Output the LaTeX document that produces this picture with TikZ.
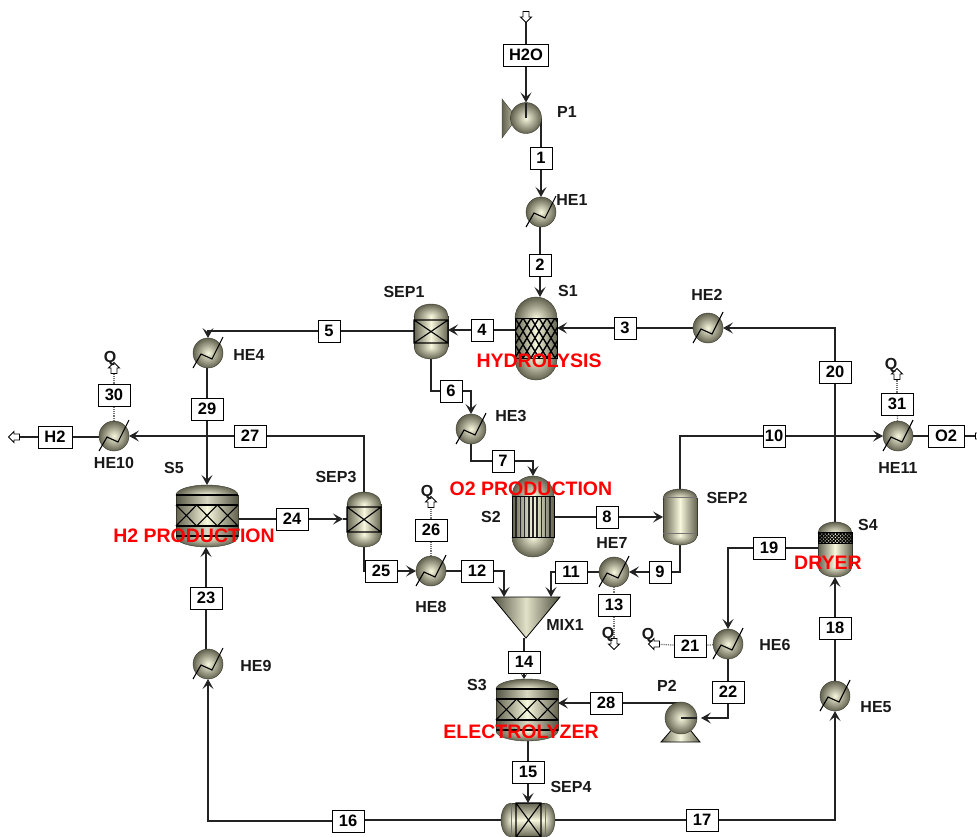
\documentclass[tikz,border=0pt]{standalone}
\usepackage{fontspec}
\setmainfont{Liberation Sans}
\usetikzlibrary{arrows.meta}
\definecolor{VD}{HTML}{62624F}
\definecolor{VL}{HTML}{F8F8DE}
\definecolor{EDG}{HTML}{3A3A30}
\definecolor{LNC}{HTML}{222222}
\pgfdeclarelayer{bg}
\pgfsetlayers{bg,main}
\tikzset{
  ghost/.style={rectangle,inner sep=0pt,outer sep=0pt,draw=none,fill=none},
  hx/.style={circle,inner sep=0pt,outer sep=0pt,minimum size=30pt,inner color=VL,outer color=VD,draw=EDG,line width=.4pt},
  bx/.style={rectangle,draw=black,fill=white,line width=1pt,inner sep=0pt,minimum height=22pt,font=\bfseries\fontsize{16.5}{17}\selectfont},
  b1d/.style={bx,minimum width=22pt},
  b2d/.style={bx,minimum width=32pt},
  lab/.style={inner sep=0pt,font=\bfseries\fontsize{16}{17}\selectfont,text=black!90},
  redlab/.style={inner sep=0pt,font=\bfseries\fontsize{19.5}{20}\selectfont,text=red},
  line/.style={draw=LNC,line width=1.1pt},
  flow/.style={line,-{Stealth[length=10pt,width=11pt,inset=4.5pt]}},
  flowshort/.style={line,-{Stealth[length=5pt,width=6pt,inset=2pt]}},
  heat/.style={draw=black!55,line width=1.2pt,densely dotted},
  openarr/.style={draw=black,fill=white,line width=.9pt,line join=miter},
  inner/.style={draw=black,line width=1.1pt},
  thin inner/.style={draw=black!75,line width=.8pt},
}
% name cx top bottom halfw dome
\newcommand\Vess[6]{%
  \node[ghost,minimum width={2*#5},minimum height={#4-#3}] (#1) at ({#2},{(#3+#4)/2}) {};
  \shade[left color=VD,right color=VD,middle color=VL] ({#2-#5},{#3+#6}) rectangle ({#2+#5},{#4-#6});
  \begin{scope}\clip ({#2-#5-1},{#3-1}) rectangle ({#2+#5+1},{#3+#6});
    \shade[inner color=VL,outer color=VD,draw=EDG,line width=.4pt] ({#2},{#3+#6}) ellipse ({#5} and {#6});
  \end{scope}
  \begin{scope}\clip ({#2-#5-1},{#4+1}) rectangle ({#2+#5+1},{#4-#6});
    \shade[inner color=VL,outer color=VD,draw=EDG,line width=.4pt] ({#2},{#4-#6}) ellipse ({#5} and {#6});
  \end{scope}
  \draw[EDG,line width=.4pt] ({#2-#5},{#3+#6}) -- ({#2-#5},{#4-#6}) ({#2+#5},{#3+#6}) -- ({#2+#5},{#4-#6});
}
% name x y
\newcommand\HX[3]{%
  \node[hx] (#1) at (#2,#3) {};
  \draw[inner] ([shift={(-15,15)}]#1.center) -- ([shift={(-7,1)}]#1.center) -- ([shift={(4,6)}]#1.center) -- ([shift={(15,-16)}]#1.center);
}
% open block arrow: name x y rotation (0 = pointing down on the page)
\newcommand\OpenA[4]{%
  \coordinate (#1) at (#2,#3);
  \draw[openarr,shift={(#2,#3)},rotate=#4] (-3,-5.5) -- (3,-5.5) -- (3,0) -- (5.5,0) -- (0,5.5) -- (-5.5,0) -- (-3,0) -- cycle;
}
% low wide drum: name cx top bottom halfw
\newcommand\Drum[5]{%
  \Vess{#1}{#2}{#3}{#4}{#5}{10}
  \fill[black,opacity=.12] ({#2-#5},{#3+10}) rectangle ({#2+#5},{#3+20});
  \fill[black,opacity=.12] ({#2-#5},{#3+41}) rectangle ({#2+#5},{#3+51});
  \draw[inner] ({#2-#5},{#3+10}) -- ({#2+#5},{#3+10}) ({#2-#5},{#3+20}) -- ({#2+#5},{#3+20})
     ({#2-#5},{#3+41}) -- ({#2+#5},{#3+41}) ({#2-#5},{#3+51}) -- ({#2+#5},{#3+51});
  \foreach \k in {0,1,2}{
    \draw[inner] ({#2-#5+\k*2*#5/3},{#3+20}) -- ({#2-#5+(\k+1)*2*#5/3},{#3+41})
                 ({#2-#5+\k*2*#5/3},{#3+41}) -- ({#2-#5+(\k+1)*2*#5/3},{#3+20});
  }
}
% name cx top bottom halfw dome bandtop bandbottom
\newcommand\Sep[8]{%
  \Vess{#1}{#2}{#3}{#4}{#5}{#6}
  \draw[inner] ({#2-#5},#7) rectangle ({#2+#5},#8)
     ({#2-#5},#7) -- ({#2+#5},#8) ({#2-#5},#8) -- ({#2+#5},#7);
}
\begin{document}
\begin{tikzpicture}[x=1pt,y=-1pt]
\useasboundingbox (0,0) rectangle (977,836);
\begin{pgfonlayer}{bg}\fill[white] (0,0) rectangle (977,836);\end{pgfonlayer}
\clip (0,0) rectangle (977,836);

% ---------- equipment ----------
% P1
\shade[left color=VD,right color=VL!70!VD,draw=EDG,line width=.4pt] (502,99) -- (502,138) -- (517,118) -- cycle;
\node[hx,minimum size=31pt] (P1) at (526,118) {};
\HX{HE1}{541}{212}
% S1
\Vess{S1}{536}{297}{380}{21}{21}
\begin{scope}
  \clip (515,318) rectangle (557,358);
  \foreach \k in {-5,...,9}{
    \draw[black,line width=1.4pt] ({515+8*\k},318) -- ({515+8*\k+24},358);
    \draw[black,line width=1.4pt] ({515+8*\k+24},318) -- ({515+8*\k},358);
  }
\end{scope}
\draw[black,line width=1pt] (515,318) rectangle (557,358);
\HX{HE2}{708}{328}
\Sep{SEP1}{431}{304}{359}{17}{12}{320}{343}
\HX{HE4}{208}{353}
\HX{HE3}{471}{429}
% S2
\Vess{S2}{533}{476}{557}{21}{20}
\begin{scope}
  \clip (512,496) rectangle (554,537);
  \foreach \k in {1,...,9}{\draw[black!85,line width=1.6pt] ({512+\k*4.2},496) -- ({512+\k*4.2},537);}
\end{scope}
\draw[black,line width=1pt] (512,496) rectangle (554,537);
% SEP2
\Vess{SEP2}{680}{489}{545}{17}{9}
\draw[thin inner,black!55] (663,497) -- (697,497) (663,533) -- (697,533);
\HX{HE11}{898}{436}
\HX{HE10}{114}{436}
\Drum{S5}{207}{485}{547}{31}
\Sep{SEP3}{364}{492}{547}{17}{12}{507}{532}
\HX{HE8}{431}{571}
\HX{HE7}{614}{572}
% MIX1
\node[ghost,minimum width=68pt,minimum height=41pt] (MIX1) at (526,617) {};
\coordinate (mixL) at (504,597);
\coordinate (mixR) at (551,597);
\coordinate (mixTip) at (526,638);
\shade[left color=VD!80!black,right color=VD!80!black,middle color=VL!85!VD,draw=black,line width=.8pt] (492,597) -- (560,597) -- (mixTip) -- cycle;
% S4
\Vess{S4}{835}{522}{577}{17}{11}
\begin{scope}
  \clip (818,532) rectangle (852,543);
  \foreach \k in {-4,...,14}{
    \draw[black,line width=.9pt] ({818+3.4*\k},532) -- ({818+3.4*\k+11},543);
    \draw[black,line width=.9pt] ({818+3.4*\k+11},532) -- ({818+3.4*\k},543);
  }
\end{scope}
\draw[black,line width=.8pt] (818,532) rectangle (852,543);
\HX{HE6}{728}{644}
\HX{HE5}{835}{696}
\HX{HE9}{208}{664}
\Drum{S3}{527}{679}{741}{31}
% P2
\shade[left color=VD,right color=VD,middle color=VL,draw=black,line width=.8pt] (661,742) -- (700,742) -- (687,726) -- (675,726) -- cycle;
\node[hx,minimum size=32pt] (P2) at (681,718) {};
% SEP4
\node[ghost,minimum width=54pt,minimum height=34pt] (SEP4) at (528,820) {};
\shade[top color=VD,bottom color=VD,middle color=VL] (511,803) rectangle (545,837);
\begin{scope}\clip (500,802) rectangle (511,838);
  \shade[inner color=VL,outer color=VD,draw=EDG,line width=.4pt] (511,820) ellipse (10 and 17);
\end{scope}
\begin{scope}\clip (545,802) rectangle (556,838);
  \shade[inner color=VL,outer color=VD,draw=EDG,line width=.4pt] (545,820) ellipse (10 and 17);
\end{scope}
\draw[EDG,line width=.4pt] (511,803) -- (545,803);
\draw[thin inner,black!55] (511,803) -- (511,837) (545,803) -- (545,837);
\draw[inner] (516,803) rectangle (541,837) (516,803) -- (541,837) (516,837) -- (541,803);

% ---------- stream boxes ----------
\node[bx,minimum width=45pt] (bH2O) at (526,55) {H2O};
\node[b1d] (b1) at (541,158) {1};
\node[b1d] (b2) at (540,265) {2};
\node[b1d] (b3) at (625,328) {3};
\node[b1d] (b4) at (482,330) {4};
\node[b1d] (b5) at (329,331) {5};
\node[b1d] (b6) at (451,391) {6};
\node[b1d] (b7) at (503,461) {7};
\node[b1d] (b8) at (607,517) {8};
\node[b1d] (b9) at (660,572) {9};
\node[b1d] (b10) at (774,436) {10};
\node[b2d] (b11) at (571,572) {11};
\node[b2d] (b12) at (477,571) {12};
\node[b2d] (b13) at (614,605) {13};
\node[b2d] (b14) at (524,662) {14};
\node[b2d] (b15) at (528,772) {15};
\node[b2d] (b16) at (348,821) {16};
\node[b2d] (b17) at (702,820) {17};
\node[b2d] (b18) at (835,628) {18};
\node[b2d] (b19) at (769,548) {19};
\node[b2d] (b20) at (835,372) {20};
\node[b2d] (b21) at (690,646) {21};
\node[b2d] (b22) at (728,692) {22};
\node[b2d] (b23) at (206,598) {23};
\node[b2d] (b24) at (292,519) {24};
\node[b2d] (b25) at (381,571) {25};
\node[b2d] (b26) at (431,530) {26};
\node[b2d] (b27) at (250,436) {27};
\node[b2d] (b28) at (606,703) {28};
\node[b2d] (b29) at (207,409) {29};
\node[b2d] (b30) at (114,395) {30};
\node[b2d] (b31) at (897,404) {31};
\node[bx,minimum width=34pt] (bH2) at (55,437) {H2};
\node[bx,minimum width=36pt] (bO2) at (946,436) {O2};

% ---------- open stream ends ----------
\OpenA{inH2O}{526}{17}{0}
\OpenA{outH2}{14}{437}{-90}
\OpenA{outO2}{981}{436}{90}
\OpenA{q30}{114}{368}{180}
\OpenA{q31}{897}{374}{180}
\OpenA{q26}{431}{502}{180}
\OpenA{q13}{614}{644}{0}
\OpenA{q21}{654}{644}{-90}

% ---------- connectors ----------
\begin{pgfonlayer}{bg}
\draw[line] (inH2O) -- (bH2O);
\draw[flow] (bH2O) -- (P1.north);
\draw[line] (b1 |- P1.center) -- (b1);
\draw[flow] (b1) -- (HE1.north);
\draw[line] (b2 |- HE1.center) -- (b2);
\draw[flow] (b2) -- (b2 |- S1.north);
\draw[line] (HE2) -- (b3);
\draw[flow] (b3) -- (S1.east |- b3);
\draw[line] (S1.west |- b4) -- (b4);
\draw[flow] (b4) -- (SEP1.east |- b4);
\draw[line] (SEP1.west |- b5) -- (b5);
\draw[flow] (b5) -| (HE4.north);
\draw[line] (b29 |- HE4.center) -- (b29);
\draw[flow] (b29) -- (b29 |- S5.north);
\draw[line] (SEP1.south) |- (b6);
\draw[flow] (b6) -| (HE3.north);
\draw[line] (HE3.south) |- (b7);
\draw[flow] (b7) -| (S2.north);
\draw[line] (S2.east |- b8) -- (b8);
\draw[flow] (b8) -- (SEP2.west |- b8);
\draw[line] (SEP2.north) |- (b10);
\draw[flow] (b10) -- (HE11.west);
\draw[line] (HE11) -- (bO2);
\draw[line] (bO2) -- (outO2);
\draw[heat] (HE11) -- (b31);
\draw[heat] (b31) -- (q31);
\draw[line] (SEP2.south) |- (b9);
\draw[flow] (b9) -- (HE7.east);
\draw[line] (HE7) -- (b11);
\draw[flow] (b11) -| (mixR);
\draw[heat] (HE7) -- (b13);
\draw[heat] (b13) -- (q13);
\draw[line] (SEP3.south) |- (b25);
\draw[flow] (b25) -- (HE8.west);
\draw[line] (HE8) -- (b12);
\draw[flow] (b12) -| (mixL);
\draw[heat] (HE8) -- (b26);
\draw[heat] (b26) -- (q26);
\draw[line] (SEP3.north) |- (b27);
\draw[flow] (b27) -- (HE10.east);
\draw[line] (HE10) -- (HE10 |- bH2) -- (bH2);
\draw[line] (bH2) -- (outH2);
\draw[heat] (HE10) -- (b30);
\draw[heat] (b30) -- (q30);
\draw[line] (S5.east |- b24) -- (b24);
\draw[line] (SEP3.center |- b24) -- ([xshift=-4pt]SEP3.west |- b24);
\draw[flow] (b24) -- ([xshift=-4pt]SEP3.west |- b24);
\draw[line] (b14 |- mixTip) -- (b14);
\draw[flowshort] (b14) -- (b14 |- S3.north);
\draw[line] (b15 |- S3.south) -- (b15);
\draw[flow] (b15) -- (SEP4.north);
\draw[line] (SEP4.west -| b16) -- (b16);
\draw[line] (SEP4.west) -- (SEP4.west -| b16);
\draw[flow] (b16) -| (HE9.south);
\draw[line] (b23 |- HE9.center) -- (b23);
\draw[flow] (b23) -- (b23 |- S5.south);
\draw[line] (SEP4.east) -- (b17);
\draw[flow] (b17) -| (HE5.south);
\draw[line] (HE5.north) -- (b18);
\draw[flow] (b18) -- (S4.south);
\draw[line] (S4.west |- b19) -- (b19);
\draw[flow] (b19) -| (HE6.north);
\draw[line] (HE6.south) -- (b22);
\draw[flow] (b22) |- ([xshift=4pt]P2.east);
\draw[heat] (HE6) -- (b21);
\draw[heat] (b21) -- (q21);
\draw[line] (P2.north) -- (b28 -| P2.north) -- (b28);
\draw[flow] (b28) -- (S3.east |- b28);
\draw[line] (S4.north) -- (b20);
\draw[flow] (b20) |- (HE2.east);
\end{pgfonlayer}
\draw[line] (P1.center) -- (P1.north);
\draw[line] (P2.center) -- (P2.east);

% ---------- equipment labels ----------
\node[lab] (lP1) at (567,112) {P1};
\node[lab] (lHE1) at (572,200) {HE1};
\node[lab] (lS1) at (568,291) {S1};
\node[lab] (lHE2) at (707,295) {HE2};
\node[lab] (lSEP1) at (404,292) {SEP1};
\node[lab] (lHE4) at (249,355) {HE4};
\node[lab] (lHE3) at (511,416) {HE3};
\node[lab] (lS5) at (174,468) {S5};
\node[lab] (lSEP3) at (336,477) {SEP3};
\node[lab] (lHE10) at (114,463) {HE10};
\node[lab] (lHE11) at (898,468) {HE11};
\node[lab] (lS2) at (491,517) {S2};
\node[lab] (lSEP2) at (727,498) {SEP2};
\node[lab] (lS4) at (868,525) {S4};
\node[lab] (lHE7) at (612,543) {HE7};
\node[lab] (lHE8) at (431,607) {HE8};
\node[lab] (lMIX1) at (565,625) {MIX1};
\node[lab] (lHE6) at (775,645) {HE6};
\node[lab] (lS3) at (477,685) {S3};
\node[lab] (lP2) at (667,686) {P2};
\node[lab] (lSEP4) at (571,787) {SEP4};
\node[lab] (lHE5) at (876,707) {HE5};
\node[lab] (lHE9) at (256,666) {HE9};
\node[lab] (lq30) at (110,358) {Q};
\node[lab] (lq31) at (891,365) {Q};
\node[lab] (lq26) at (427,492) {Q};
\node[lab] (lq13) at (608,634) {Q};
\node[lab] (lq21) at (648,635) {Q};

% ---------- section labels ----------
\node[redlab] (tS1) at (539,361) {HYDROLYSIS};
\node[redlab] (tS2) at (531,489) {O2 PRODUCTION};
\node[redlab] (tS5) at (194,536) {H2 PRODUCTION};
\node[redlab] (tS4) at (828,563) {DRYER};
\node[redlab] (tS3) at (521,732) {ELECTROLYZER};
\end{tikzpicture}
\end{document}
